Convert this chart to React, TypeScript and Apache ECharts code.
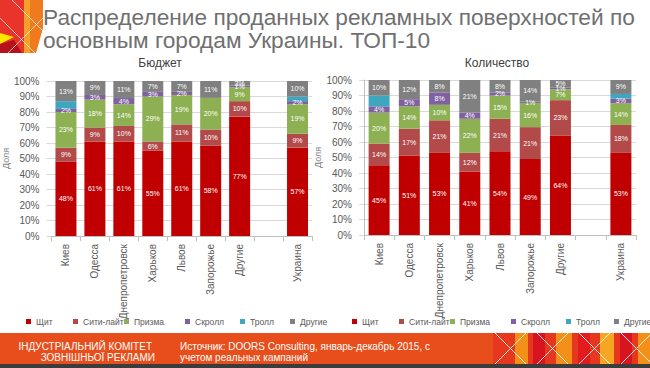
import React, { useEffect, useRef } from "react";
import * as echarts from "echarts";

const categories = ["Киев", "Одесса", "Днепропетровск", "Харьков", "Львов", "Запорожье", "Другие", "", "Украина"];
const seriesNames = ["Щит", "Сити-лайт", "Призма", "Скролл", "Тролл", "Другие"];
const seriesColors = ["#C00000", "#B24A4A", "#8DB052", "#7F60A0", "#3FA6C0", "#808080"];

// Бюджет, %
const budgetShchit = [48, 61, 61, 55, 61, 58.4, 77, null, 57];
const budgetCityLight = [9, 9, 10, 6, 11, 10.3, 10, null, 9];
const budgetPrizma = [23, 18, 14, 29, 19, 20.4, 9, null, 19];
const budgetSkroll = [2, 3, 4, 3, 2, 0, 1, null, 2];
const budgetTroll = [5, 0, 0, 0, 0, 0, 0, null, 3];
const budgetDrugie = [13, 9, 11, 7, 7, 10.9, 3, null, 10];

// Количество, %
const qtyShchit = [45, 51.3, 53, 41, 54, 49, 64, null, 53];
const qtyCityLight = [14, 17.3, 21, 12, 21, 20.6, 23, null, 18];
const qtyPrizma = [20, 14.4, 10, 22, 15, 15.6, 7, null, 14];
const qtySkroll = [4, 4.6, 8, 4, 2, 0.8, 1, null, 3];
const qtyTroll = [7, 0, 0, 0, 0, 0, 0, null, 3];
const qtyDrugie = [10, 12.4, 8, 21, 8, 14, 5, null, 9];

const yTicks = [0, 10, 20, 30, 40, 50, 60, 70, 80, 90, 100];

const titleLines = ["Распределение проданных рекламных поверхностей по", "основным городам Украины. ТОП-10"];
const subTitles = ["Бюджет", "Количество"];
const footerLeft = ["ІНДУСТРІАЛЬНИЙ КОМІТЕТ", "ЗОВНІШНЬОЇ РЕКЛАМИ"];
const footerSource = ["Источник: DOORS Consulting, январь-декабрь 2015, с", "учетом реальных кампаний"];

const legendLeftA = [26, 73, 124, 185, 240, 290];
const legendLeftB = [352, 399, 450, 511, 566, 614];

export default function App() {
  const ref = useRef<HTMLDivElement>(null);
  useEffect(() => {
    if (!ref.current) return;
    const chart = echarts.init(ref.current, null, { renderer: "svg" });
    const budget = [budgetShchit, budgetCityLight, budgetPrizma, budgetSkroll, budgetTroll, budgetDrugie];
    const qty = [qtyShchit, qtyCityLight, qtyPrizma, qtySkroll, qtyTroll, qtyDrugie];
    const font = "Liberation Sans, Arial, sans-serif";

    const mkSeries = (sets: (number | null)[][], idx: number, stack: string) =>
      sets.map((d, i) => ({
        type: "bar",
        name: seriesNames[i],
        stack,
        xAxisIndex: idx,
        yAxisIndex: idx,
        barWidth: 21,
        data: d,
        itemStyle: { color: seriesColors[i] },
        label: {
          show: i !== 4,
          position: "inside",
          fontSize: 7,
          color: "#ffffff",
          fontFamily: font,
          formatter: (p: any) => (p.value != null && p.value >= 0.5 ? Math.round(p.value) + "%" : ""),
        },
      }));

    const mkX = (gi: number) => ({
      type: "category",
      gridIndex: gi,
      data: categories,
      axisLine: { lineStyle: { color: "#bfbfbf" } },
      axisTick: { show: true, lineStyle: { color: "#bfbfbf" }, length: 5 },
      axisLabel: { rotate: 90, interval: 0, fontSize: 10, color: "#595959", margin: 8, fontFamily: font },
    });
    const mkY = (gi: number, showLine: boolean) => ({
      type: "value",
      gridIndex: gi,
      min: yTicks[0],
      max: yTicks[yTicks.length - 1],
      interval: yTicks[1] - yTicks[0],
      name: "Доля",
      nameLocation: "middle",
      nameGap: 24,
      nameRotate: 90,
      nameTextStyle: { fontSize: 9, color: "#7f7f7f", fontFamily: font },
      axisLine: { show: showLine, lineStyle: { color: "#bfbfbf" } },
      axisTick: { show: true, length: 5, lineStyle: { color: "#d9d9d9" } },
      splitLine: { lineStyle: { color: "#d9d9d9" } },
      axisLabel: { formatter: "{value}%", fontSize: 10, color: "#595959", margin: 12, fontFamily: font },
    });

    const legends: any[] = [];
    [legendLeftA, legendLeftB].forEach((pos) => {
      seriesNames.forEach((n, i) => {
        legends.push({
          data: [n],
          left: pos[i],
          top: 317,
          icon: "rect",
          itemWidth: 5,
          itemHeight: 5,
          itemGap: 0,
          selectedMode: false,
          padding: 0,
          textStyle: { fontSize: 8.5, color: "#595959", fontFamily: font },
        });
      });
    });

    const stripes: any[] = [];
    const stripeDefs = [
      [493, 650, "#E5381E"],
      [515, 528, "#F39019"],
      [533, 545, "#D81420"],
      [556, 572, "#F39019"],
      [578, 590, "#E31B1E"],
      [600, 614, "#F5A623"],
      [620, 632, "#D81420"],
      [638, 650, "#F39019"],
    ];
    stripeDefs.forEach(([a, b, c]) =>
      stripes.push({ type: "rect", shape: { x: a, y: 333, width: (b as number) - (a as number), height: 31 }, style: { fill: c } })
    );
    [495, 537, 579, 621].forEach((x) => {
      stripes.push({ type: "line", shape: { x1: x, y1: 364, x2: x + 31, y2: 333 }, style: { stroke: "rgba(255,255,255,0.85)", lineWidth: 1 } });
      stripes.push({ type: "line", shape: { x1: x, y1: 333, x2: x + 31, y2: 364 }, style: { stroke: "rgba(255,255,255,0.85)", lineWidth: 1 } });
    });

    const option: any = {
      animation: false,
      backgroundColor: "#ffffff",
      grid: [
        { left: 40, top: 81, width: 272, height: 155 },
        { left: 364, top: 80, width: 272, height: 155 },
      ],
      xAxis: [mkX(0), mkX(1)],
      yAxis: [mkY(0, false), mkY(1, true)],
      legend: legends,
      series: [...mkSeries(budget, 0, "b"), ...mkSeries(qty, 1, "q")],
      graphic: [
        // logo
        { type: "polygon", shape: { points: [[0, 0], [26, 0], [26, 53], [0, 53]] }, style: { fill: "#E8342A" } },
        { type: "polygon", shape: { points: [[26, 0], [43, 0], [43, 28], [36, 53], [26, 53]] }, style: { fill: "#F07A1E" } },
        { type: "polygon", shape: { points: [[24, 0], [30, 0], [30, 53], [24, 53]] }, style: { fill: "#F5A02A" } },
        { type: "polygon", shape: { points: [[0, 33], [14, 37], [0, 44]] }, style: { fill: "#FFE600" } },
        { type: "polygon", shape: { points: [[0, 44], [14, 40], [22, 53], [0, 53]] }, style: { fill: "#B5121B" } },
        { type: "line", shape: { x1: 0, y1: 18, x2: 35, y2: 53 }, style: { stroke: "rgba(255,255,255,0.7)", lineWidth: 1 } },
        { type: "line", shape: { x1: 8, y1: 53, x2: 43, y2: 18 }, style: { stroke: "rgba(255,255,255,0.7)", lineWidth: 1 } },
        { type: "line", shape: { x1: 12, y1: 0, x2: 43, y2: 31 }, style: { stroke: "rgba(255,255,255,0.7)", lineWidth: 1 } },
        // title
        { type: "text", x: 43, y: 17, style: { text: titleLines[0], fontSize: 22.7, fill: "#707070", fontFamily: font, verticalAlign: "middle" } },
        { type: "text", x: 43, y: 40, style: { text: titleLines[1], fontSize: 22.7, fill: "#707070", fontFamily: font, verticalAlign: "middle" } },
        { type: "text", x: 160, y: 63, style: { text: subTitles[0], fontSize: 12, fill: "#404040", fontFamily: font, align: "center", verticalAlign: "middle" } },
        { type: "text", x: 497, y: 63, style: { text: subTitles[1], fontSize: 12, fill: "#404040", fontFamily: font, align: "center", verticalAlign: "middle" } },
        // footer
        { type: "rect", shape: { x: 0, y: 333, width: 650, height: 31 }, style: { fill: "#E84E1B" } },
        { type: "rect", shape: { x: 0, y: 364, width: 650, height: 4 }, style: { fill: "#3c3c3c" } },
        ...stripes,
        { type: "text", x: 152, y: 346, style: { text: footerLeft[0], fontSize: 10, fill: "#ffffff", fontFamily: font, align: "right", verticalAlign: "middle" } },
        { type: "text", x: 155, y: 357, style: { text: footerLeft[1], fontSize: 10, fill: "#ffffff", fontFamily: font, align: "right", verticalAlign: "middle" } },
        { type: "text", x: 180, y: 346, style: { text: footerSource[0], fontSize: 10, fill: "#ffffff", fontFamily: font, verticalAlign: "middle" } },
        { type: "text", x: 180, y: 357, style: { text: footerSource[1], fontSize: 10, fill: "#ffffff", fontFamily: font, verticalAlign: "middle" } },
      ],
    };
    chart.setOption(option);
    return () => chart.dispose();
  }, []);
  return <div ref={ref} style={{ position: "fixed", left: 0, top: 0, width: 650, height: 368 }} />;
}
